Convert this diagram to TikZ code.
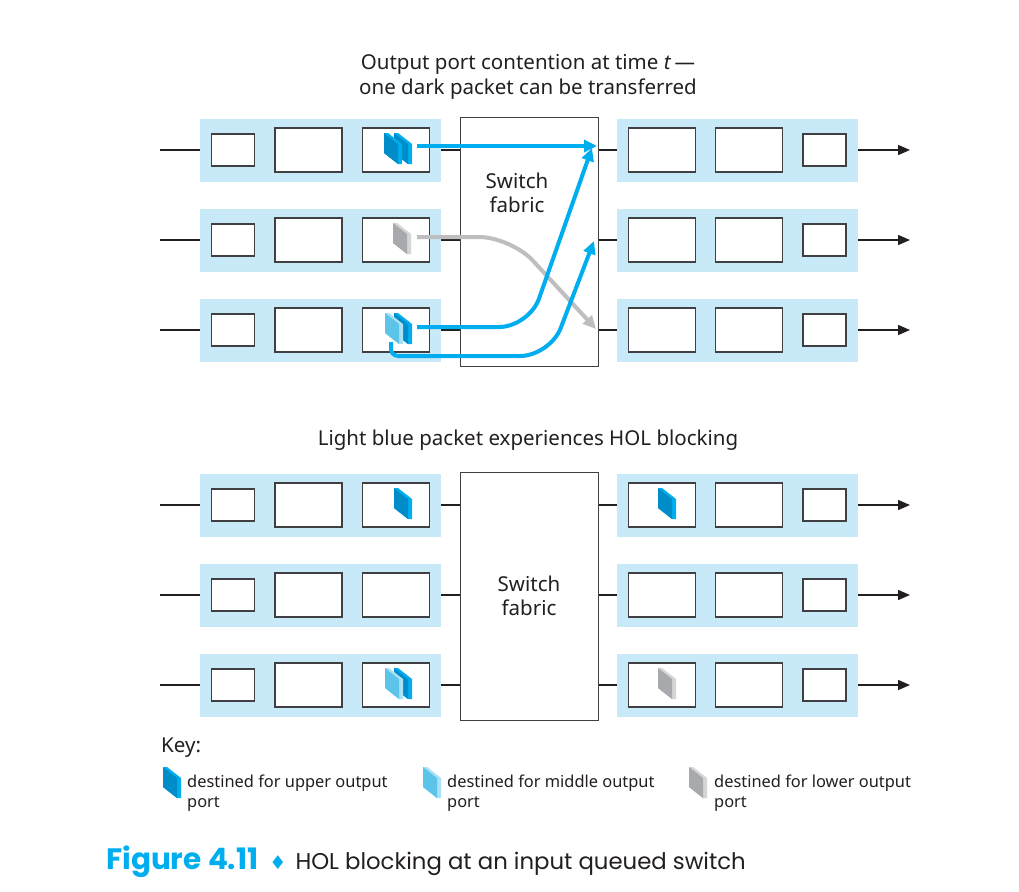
\documentclass[tikz,border=0pt]{standalone}
\usepackage{fontspec}
\setmainfont{Noto Sans}
\newfontfamily\capfont{Poppins}
\newfontfamily\symfont{DejaVu Sans}
\usetikzlibrary{arrows.meta}

\definecolor{bandblue}{RGB}{200,233,248}
\definecolor{flowcyan}{RGB}{0,174,239}
\definecolor{flowgray}{RGB}{188,190,192}
\definecolor{pktdark}{RGB}{0,140,200}
\definecolor{pktdarkside}{RGB}{0,174,239}
\definecolor{pktlight}{RGB}{92,196,232}
\definecolor{pktlightside}{RGB}{170,225,247}
\definecolor{pktgray}{RGB}{167,169,172}
\definecolor{pktgrayside}{RGB}{212,213,215}
\definecolor{boxline}{RGB}{64,64,66}
\definecolor{txt}{RGB}{35,31,32}

% packet: top-left corner, front colour, side colour
\newcommand{\packet}[3]{%
  \fill[#3] (#1) -- ++(4,0) -- ++(14,11) -- ++(0,20) -- ++(-4,0) -- ++(-14,-11) -- cycle;
  \fill[#2] (#1) -- ++(14,11) -- ++(0,20) -- ++(-14,-11) -- cycle;
}

\begin{document}
\begin{tikzpicture}[x=1pt,y=-1pt,
  band/.style={fill=bandblue, minimum width=241pt, minimum height=63pt, inner sep=0pt},
  smallbox/.style={draw=boxline, line width=1.3pt, fill=white, minimum width=43pt, minimum height=32pt, inner sep=0pt},
  bigbox/.style={draw=boxline, line width=1.3pt, fill=white, minimum width=67pt, minimum height=44pt, inner sep=0pt},
  fabric/.style={draw=boxline, line width=1pt, fill=white, minimum width=138pt, inner sep=0pt},
  label/.style={text=txt, align=center, font=\fontsize{20.5}{24.5}\selectfont},
  keytext/.style={text=txt, align=left, anchor=west, inner sep=0pt, font=\fontsize{16.4}{20}\selectfont},
  wire/.style={draw=txt, line width=1.5pt},
  outwire/.style={wire, -{Triangle[length=12pt,width=10pt]}},
  flow/.style={draw=flowcyan, line width=4pt, -{Triangle[length=13pt,width=12pt]}},
  grayflow/.style={draw=flowgray, line width=4pt, -{Triangle[length=13pt,width=12pt]}}]

\fill[white] (0,0) rectangle (1019,891);
\useasboundingbox (0,0) rectangle (1019,891);

% ===== Upper switch =====
\node[label] (toptitle) at (528,77) {Output port contention at time \textit{t}\,—\\one dark packet can be transferred};

\node[fabric, minimum height=249pt] (fab) at (529,241.5) {};
\node[label] (fablabel) at (517,193) {Switch\\fabric};

\foreach \r/\y in {1/150,2/240,3/330} {
    \node[band] (in\r) at (320.5,\y) {};
    \node[smallbox] (ia\r) at (233,\y) {};
    \node[bigbox] (ib\r) at (308.5,\y) {};
    \node[bigbox] (ic\r) at (396,\y) {};
    \node[band] (out\r) at (737.5,\y) {};
    \node[bigbox] (oa\r) at (662,\y) {};
    \node[bigbox] (ob\r) at (749,\y) {};
    \node[smallbox] (oc\r) at (824.5,\y) {};
    \coordinate (src\r) at (160,\y);
    \coordinate (sink\r) at (910,\y);
    \draw[wire] (src\r) -- (in\r.west);
    \draw[wire] (in\r.east) -- (in\r.east -| fab.west);
    \draw[wire] (fab.east |- out\r) -- (out\r.west);
    \draw[outwire] (out\r.east) -- (sink\r);
}

% ===== Transfers through the fabric =====
\coordinate (s1) at (417,146);
\coordinate (t1) at (597,146);
\coordinate (s2) at (417,237);
\coordinate (t2) at (596,329);
\coordinate (s3) at (417,327);
\coordinate (t3) at (592,148);
\coordinate (s4) at (391,342);
\coordinate (t4) at (594,241);

\draw[flow] (s1) -- (t1);
\draw[grayflow, rounded corners=32pt] (s2) -- (511,237) -- (t2);
\draw[flow, rounded corners=30pt] (s3) -- (529,327) -- (t3);
\draw[flow] (s4) [rounded corners=7pt] -- (391,356) [rounded corners=30pt] -- (550,356) -- (t4);

\packet{394,133}{pktdark}{pktdarkside}
\packet{384,133}{pktdark}{pktdarkside}
\packet{393,223}{pktgray}{pktgrayside}
\packet{394,313}{pktdark}{pktdarkside}
\packet{385,313}{pktlight}{pktlightside}

% ===== Lower switch =====
\node[label] (bottitle) at (528,440) {Light blue packet experiences HOL blocking};

\node[fabric, minimum height=248pt, label, text=txt] (fab2) at (529,596) {Switch\\fabric};

\foreach \r/\y in {4/505,5/595,6/685} {
    \node[band] (in\r) at (320.5,\y) {};
    \node[smallbox] (ia\r) at (233,\y) {};
    \node[bigbox] (ib\r) at (308.5,\y) {};
    \node[bigbox] (ic\r) at (396,\y) {};
    \node[band] (out\r) at (737.5,\y) {};
    \node[bigbox] (oa\r) at (662,\y) {};
    \node[bigbox] (ob\r) at (749,\y) {};
    \node[smallbox] (oc\r) at (824.5,\y) {};
    \coordinate (src\r) at (160,\y);
    \coordinate (sink\r) at (910,\y);
    \draw[wire] (src\r) -- (in\r.west);
    \draw[wire] (in\r.east) -- (in\r.east -| fab2.west);
    \draw[wire] (fab2.east |- out\r) -- (out\r.west);
    \draw[outwire] (out\r.east) -- (sink\r);
}

\packet{394,488}{pktdark}{pktdarkside}
\packet{658,488}{pktdark}{pktdarkside}
\packet{394,668}{pktdark}{pktdarkside}
\packet{385,668}{pktlight}{pktlightside}
\packet{658,668}{pktgray}{pktgrayside}

% ===== Key =====
\node[keytext, font=\fontsize{20.5}{24}\selectfont] (key) at (161,748) {Key:};
\packet{163,767}{pktdark}{pktdarkside}
\node[keytext] (keyup) at (187,793) {destined for upper output\\port};
\packet{423,767}{pktlight}{pktlightside}
\node[keytext] (keymid) at (447,793) {destined for middle output\\port};
\packet{689,767}{pktgray}{pktgrayside}
\node[keytext] (keylow) at (714,793) {destined for lower output\\port};

% ===== Caption =====
\node[anchor=west, inner sep=0pt, text=txt, font=\capfont\fontsize{22.8}{28}\selectfont] (caption) at (106,862)
  {\textcolor{flowcyan}{\fontsize{29.5}{30}\selectfont\bfseries Figure 4.11}\hspace{11pt}{\symfont\fontsize{19}{20}\selectfont\textcolor{flowcyan}{♦}}\hspace{9pt}HOL blocking at an input queued switch};

\end{tikzpicture}
\end{document}
